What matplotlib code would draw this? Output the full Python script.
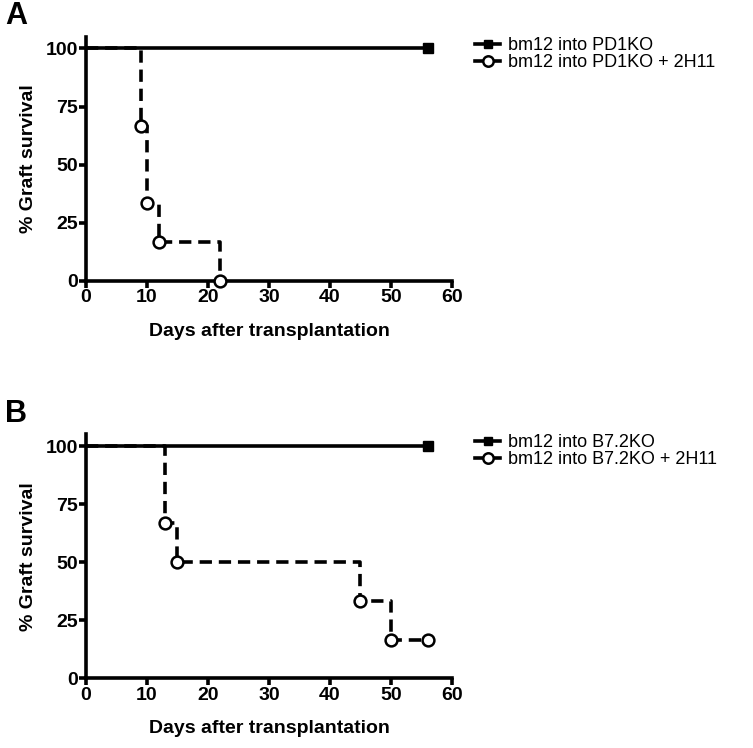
import matplotlib.pyplot as plt
from matplotlib.lines import Line2D

plt.rcParams['font.family'] = ['Liberation Sans', 'DejaVu Sans']

# Panel A data
a_ctrl_days = [0, 56]
a_ctrl_surv = [100, 100]
a_trt_days = [0, 9, 10, 12, 22]
a_trt_surv = [100, 66.7, 33.3, 16.7, 0]
a_labels = ['bm12 into PD1KO', 'bm12 into PD1KO + 2H11']

# Panel B data
b_ctrl_days = [0, 56]
b_ctrl_surv = [100, 100]
b_trt_days = [0, 13, 15, 45, 50, 56]
b_trt_surv = [100, 66.7, 50, 33.3, 16.7, 16.7]
b_labels = ['bm12 into B7.2KO', 'bm12 into B7.2KO + 2H11']

x_ticks = [0, 10, 20, 30, 40, 50, 60]
y_ticks = [0, 25, 50, 75, 100]

fig = plt.figure(figsize=(7.53, 7.48), dpi=100)
ax_a = fig.add_axes([0.1142, 0.6247, 0.486, 0.326])
ax_b = fig.add_axes([0.1142, 0.0932, 0.486, 0.326])


def draw_panel(ax, cd, cs, td, ts, labels, letter):
    lw = 2.6
    ax.plot(cd, cs, color='black', lw=lw, drawstyle='steps-post')
    ax.plot(cd[-1:], cs[-1:], 's', color='black', ms=7, clip_on=False)
    ax.plot(td, ts, color='black', lw=lw, drawstyle='steps-post',
            dashes=(3.4, 1.9), clip_on=False)
    ax.plot(td[1:], ts[1:], 'o', mfc='white', mec='black', mew=1.8, ms=8.5,
            clip_on=False, zorder=5)

    ax.set_xlim(0, 60)
    ax.set_ylim(0, 105)
    ax.set_xticks(x_ticks)
    ax.set_yticks(y_ticks)
    for s in ['top', 'right']:
        ax.spines[s].set_visible(False)
    for s in ['left', 'bottom']:
        ax.spines[s].set_linewidth(2.6)
    ax.tick_params(width=2.6, length=5, labelsize=14, pad=1)
    for t in ax.get_xticklabels() + ax.get_yticklabels():
        t.set_fontweight('bold')
    ax.set_xlabel('Days after transplantation', fontsize=14,
                  fontweight='bold', labelpad=12)
    ax.set_ylabel('% Graft survival', fontsize=14, fontweight='bold',
                  labelpad=6)

    handles = [
        Line2D([], [], color='black', lw=2.6, marker='s', ms=6),
        Line2D([], [], color='black', lw=2.6, marker='o', ms=7.5,
               mfc='white', mew=1.8),
    ]
    ax.legend(handles, labels, loc='upper left', bbox_to_anchor=(1.063, 1.0),
              frameon=False, fontsize=13, handlelength=1.4,
              handletextpad=0.45, labelspacing=0.0, borderpad=0,
              borderaxespad=0)
    ax.text(-0.222, 1.085, letter, transform=ax.transAxes, fontsize=22,
            fontweight='bold', va='center', ha='left')


draw_panel(ax_a, a_ctrl_days, a_ctrl_surv, a_trt_days, a_trt_surv,
           a_labels, 'A')
draw_panel(ax_b, b_ctrl_days, b_ctrl_surv, b_trt_days, b_trt_surv,
           b_labels, 'B')

fig.savefig('out.png', dpi=100)
